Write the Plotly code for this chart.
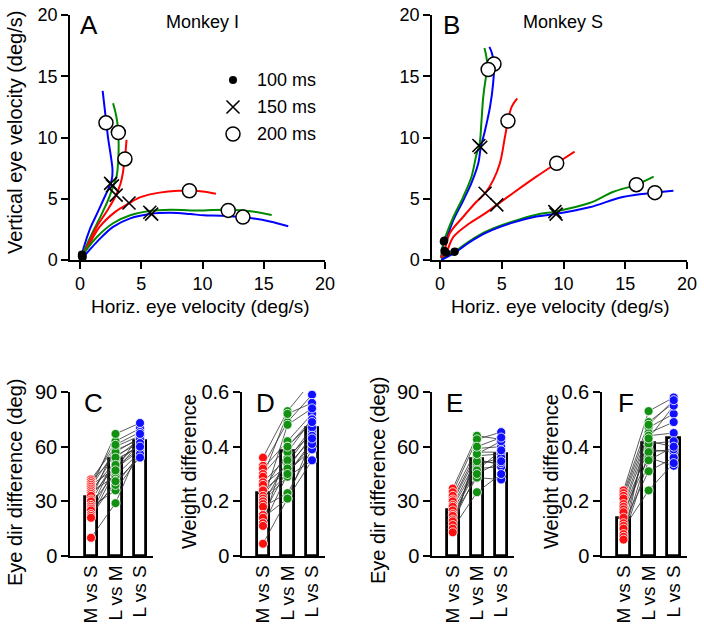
import plotly.graph_objects as go

W, H = 704, 633
FONT = "Liberation Sans, Arial, Helvetica, sans-serif"
RED, GREEN, BLUE = "#ff0000", "#008a00", "#0000ff"
DOT_RED, DOT_GREEN, DOT_BLUE = "#ff1010", "#119011", "#1010ff"

# ---------------- Panel A (Monkey I) trajectories ----------------
A_blue_up_x = [0.1, 0.3, 0.8, 1.4, 1.9, 2.4, 2.6, 2.65, 2.5, 2.3, 2.15, 2.0, 1.85]
A_blue_up_y = [0.2, 1.0, 2.5, 3.8, 4.9, 6.0, 6.6, 7.4, 8.6, 9.9, 11.2, 12.5, 13.8]
A_green_up_x = [0.1, 0.4, 1.0, 1.7, 2.3, 2.7, 3.0, 3.1, 3.15, 3.15, 3.1, 2.95, 2.7]
A_green_up_y = [0.2, 0.9, 2.2, 3.6, 4.9, 6.0, 6.9, 7.8, 8.8, 9.8, 10.8, 11.8, 12.8]
A_red_up_x = [0.1, 0.5, 1.3, 2.2, 2.9, 3.3, 3.5, 3.6, 3.7, 3.75, 3.8]
A_red_up_y = [0.2, 0.9, 2.6, 4.0, 5.2, 6.2, 7.1, 7.9, 8.6, 9.2, 9.8]
A_red_lo_x = [0.1, 0.6, 1.6, 2.9, 3.95, 5.0, 6.5, 8.0, 9.0, 10.0, 11.1]
A_red_lo_y = [0.2, 1.0, 2.7, 3.95, 4.6, 5.15, 5.5, 5.65, 5.65, 5.6, 5.4]
A_green_lo_x = [0.1, 0.5, 1.4, 2.7, 4.1, 5.7, 7.4, 9.0, 10.1, 12.1, 14.1, 15.65]
A_green_lo_y = [0.15, 0.8, 1.9, 3.0, 3.65, 4.0, 4.1, 4.05, 4.05, 4.1, 3.95, 3.67]
A_blue_lo_x = [0.1, 0.5, 1.4, 2.7, 4.1, 5.7, 7.4, 9.0, 10.1, 11.5, 13.3, 15.5, 17.0]
A_blue_lo_y = [0.1, 0.5, 1.5, 2.7, 3.4, 3.76, 3.85, 3.75, 3.65, 3.62, 3.5, 3.15, 2.75]
A_t100_x = [0.15, 0.2, 0.18, 0.15, 0.22, 0.2]
A_t100_y = [0.45, 0.4, 0.35, 0.3, 0.25, 0.2]
A_t150_x = [2.5, 2.65, 2.95, 4.0, 5.7, 5.85]
A_t150_y = [6.25, 6.05, 5.3, 4.65, 3.9, 3.75]
A_t200_x = [2.12, 3.13, 3.67, 8.93, 12.1, 13.3]
A_t200_y = [11.2, 10.4, 8.25, 5.65, 4.05, 3.5]

# ---------------- Panel B (Monkey S) trajectories ----------------
B_blue_up_x = [0.1, 0.35, 0.55, 1.1, 1.9, 2.55, 3.1, 3.3, 3.65, 4.05, 4.3, 4.37, 4.2, 4.0]
B_blue_up_y = [0.2, 1.6, 1.9, 3.3, 4.9, 6.3, 7.9, 9.2, 10.6, 12.5, 14.4, 16.0, 16.9, 17.4]
B_green_up_x = [0.1, 0.3, 0.55, 1.1, 1.9, 2.55, 2.95, 3.2, 3.35, 3.5, 3.7, 3.85, 3.75, 3.6]
B_green_up_y = [0.2, 1.5, 2.2, 3.55, 5.2, 6.8, 8.6, 9.4, 11.2, 13.3, 14.8, 15.6, 16.6, 17.3]
B_red_up_x = [0.1, 0.35, 0.8, 1.9, 2.95, 3.65, 4.3, 4.85, 5.25, 5.5, 5.8, 6.25]
B_red_up_y = [0.2, 0.75, 2.2, 3.55, 4.75, 5.45, 6.5, 7.9, 10.0, 11.35, 12.5, 13.2]
B_red_lo_x = [0.1, 0.5, 1.1, 2.4, 3.65, 4.6, 5.9, 7.8, 9.45, 10.9]
B_red_lo_y = [0.1, 0.6, 1.9, 3.0, 3.8, 4.5, 5.45, 6.8, 7.9, 8.85]
B_green_lo_x = [0.1, 1.2, 2.4, 3.8, 5.9, 7.8, 9.3, 12.1, 14.0, 15.9, 17.3]
B_green_lo_y = [0.05, 0.7, 1.55, 2.35, 3.15, 3.7, 3.95, 4.65, 5.55, 6.15, 6.8]
B_blue_lo_x = [0.1, 1.2, 2.4, 3.8, 5.9, 7.8, 9.3, 12.1, 14.8, 17.4, 18.9]
B_blue_lo_y = [0.0, 0.6, 1.45, 2.25, 3.05, 3.55, 3.75, 4.3, 5.15, 5.5, 5.65]
B_t100_x = [0.35, 0.3, 0.35, 0.5, 1.2, 1.15]
B_t100_y = [1.6, 1.5, 0.75, 0.6, 0.7, 0.65]
B_t150_x = [3.3, 3.15, 3.65, 4.6, 9.3, 9.4]
B_t150_y = [9.2, 9.35, 5.45, 4.5, 3.95, 3.75]
B_t200_x = [4.37, 3.9, 5.5, 9.45, 15.9, 17.4]
B_t200_y = [16.0, 15.55, 11.35, 7.9, 6.15, 5.5]

# ---------------- Bar panels ----------------
CATS = ["M vs S", "L vs M", "L vs S"]
C_MS = [42, 41, 40, 39, 38, 37, 36, 35, 34, 33, 31, 30, 28, 27, 26, 25, 23, 22, 21, 10]
C_LM = [60, 55, 63, 48, 58, 67, 52, 44, 57, 49, 61, 53, 46, 36, 54, 39, 50, 41, 47, 29]
C_LS = [66, 62, 70, 58, 64, 73, 61, 57, 65, 59, 68, 60, 63, 55, 64, 56, 62, 54, 67, 60]
C_BAR = [32.5, 53, 63]
D_MS = [0.36, 0.33, 0.32, 0.30, 0.29, 0.27, 0.26, 0.24, 0.24, 0.22, 0.21, 0.20, 0.20, 0.19, 0.18, 0.15, 0.14, 0.12, 0.11, 0.045]
D_LM = [0.53, 0.49, 0.42, 0.40, 0.52, 0.36, 0.33, 0.38, 0.31, 0.34, 0.30, 0.29, 0.48, 0.35, 0.23, 0.32, 0.21, 0.40, 0.30, 0.21]
D_LS = [0.64, 0.59, 0.52, 0.50, 0.56, 0.45, 0.43, 0.50, 0.39, 0.46, 0.42, 0.35, 0.54, 0.47, 0.39, 0.44, 0.35, 0.49, 0.41, 0.43]
D_BAR = [0.229, 0.385, 0.47]
E_MS = [37, 35, 33, 31, 30, 28, 27, 25, 23, 22, 20, 19, 17, 15, 13]
E_LM = [66, 64, 59, 57, 55, 53, 50, 48, 47, 43, 52, 45, 56, 35, 60]
E_LS = [64, 68, 60, 57, 56, 50, 54, 49, 58, 42, 51, 52, 63, 45, 65]
E_BAR = [25.2, 53, 56]
F_MS = [0.24, 0.23, 0.22, 0.21, 0.19, 0.18, 0.17, 0.16, 0.14, 0.12, 0.11, 0.10, 0.08, 0.07, 0.06]
F_LM = [0.53, 0.49, 0.47, 0.45, 0.44, 0.42, 0.39, 0.36, 0.41, 0.31, 0.43, 0.24, 0.38, 0.35, 0.48]
F_LS = [0.58, 0.56, 0.52, 0.49, 0.45, 0.40, 0.38, 0.33, 0.42, 0.36, 0.55, 0.34, 0.39, 0.40, 0.57]
F_BAR = [0.14, 0.415, 0.43]


def fx(p):
    return p / W


def fy(p):
    return 1 - p / H


fig = go.Figure()


def add_traj(xa, ya, curves, t100, t150, t200):
    for cx, cy, col in curves:
        fig.add_trace(go.Scatter(x=cx, y=cy, mode="lines", xaxis=xa, yaxis=ya,
                                 line=dict(color=col, width=2, shape="spline", smoothing=1.0),
                                 showlegend=False, hoverinfo="skip"))
    fig.add_trace(go.Scatter(x=t100[0], y=t100[1], mode="markers", xaxis=xa, yaxis=ya,
                             marker=dict(color="black", size=8), showlegend=False, cliponaxis=False))
    fig.add_trace(go.Scatter(x=t150[0], y=t150[1], mode="markers", xaxis=xa, yaxis=ya,
                             marker=dict(symbol="x-thin", size=13, line=dict(color="black", width=1.6)),
                             showlegend=False, cliponaxis=False))
    fig.add_trace(go.Scatter(x=t200[0], y=t200[1], mode="markers", xaxis=xa, yaxis=ya,
                             marker=dict(symbol="circle", size=14, color="white",
                                         line=dict(color="black", width=1.5)),
                             showlegend=False, cliponaxis=False))


add_traj("x", "y",
         [(A_blue_up_x, A_blue_up_y, BLUE), (A_green_up_x, A_green_up_y, GREEN),
          (A_red_up_x, A_red_up_y, RED), (A_red_lo_x, A_red_lo_y, RED),
          (A_green_lo_x, A_green_lo_y, GREEN), (A_blue_lo_x, A_blue_lo_y, BLUE)],
         (A_t100_x, A_t100_y), (A_t150_x, A_t150_y), (A_t200_x, A_t200_y))
add_traj("x2", "y2",
         [(B_blue_up_x, B_blue_up_y, BLUE), (B_green_up_x, B_green_up_y, GREEN),
          (B_red_up_x, B_red_up_y, RED), (B_red_lo_x, B_red_lo_y, RED),
          (B_green_lo_x, B_green_lo_y, GREEN), (B_blue_lo_x, B_blue_lo_y, BLUE)],
         (B_t100_x, B_t100_y), (B_t150_x, B_t150_y), (B_t200_x, B_t200_y))

# legend markers in panel A (pixel -> data of panel A)
A_X0, A_SX, A_Y0, A_SY = 80, 12.25, 260, 12.25
leg_px_x = 233
leg_rows = [(80, "100 ms"), (107, "150 ms"), (134, "200 ms")]
lx = (leg_px_x - A_X0) / A_SX
fig.add_trace(go.Scatter(x=[lx], y=[(A_Y0 - leg_rows[0][0]) / A_SY], mode="markers", xaxis="x", yaxis="y",
                         marker=dict(color="black", size=8), showlegend=False))
fig.add_trace(go.Scatter(x=[lx], y=[(A_Y0 - leg_rows[1][0]) / A_SY], mode="markers", xaxis="x", yaxis="y",
                         marker=dict(symbol="x-thin", size=13, line=dict(color="black", width=1.6)),
                         showlegend=False))
fig.add_trace(go.Scatter(x=[lx], y=[(A_Y0 - leg_rows[2][0]) / A_SY], mode="markers", xaxis="x", yaxis="y",
                         marker=dict(symbol="circle", size=14, color="white", line=dict(color="black", width=1.5)),
                         showlegend=False))


def add_bars(xa, ya, ms, lm, ls, bars):
    fig.add_trace(go.Bar(x=[0, 1, 2], y=bars, xaxis=xa, yaxis=ya, width=0.5,
                         marker=dict(color="white", line=dict(color="black", width=2.8)),
                         showlegend=False, hoverinfo="skip"))
    lx_, ly_ = [], []
    for a, b, c in zip(ms, lm, ls):
        lx_ += [0, 1, 2, None]
        ly_ += [a, b, c, None]
    fig.add_trace(go.Scatter(x=lx_, y=ly_, mode="lines", xaxis=xa, yaxis=ya,
                             line=dict(color="#333333", width=0.8), showlegend=False,
                             hoverinfo="skip", cliponaxis=False))
    for i, (vals, col) in enumerate([(ms, DOT_RED), (lm, DOT_GREEN), (ls, DOT_BLUE)]):
        fig.add_trace(go.Scatter(x=[i] * len(vals), y=vals, mode="markers", xaxis=xa, yaxis=ya,
                                 marker=dict(color=col, size=9, line=dict(color="white", width=0.8)),
                                 showlegend=False, cliponaxis=False))


add_bars("x3", "y3", C_MS, C_LM, C_LS, C_BAR)
add_bars("x4", "y4", D_MS, D_LM, D_LS, D_BAR)
add_bars("x5", "y5", E_MS, E_LM, E_LS, E_BAR)
add_bars("x6", "y6", F_MS, F_LM, F_LS, F_BAR)


def axstyle(**kw):
    d = dict(showline=True, linecolor="black", linewidth=1.5, ticks="outside", ticklen=7,
             tickwidth=1.5, tickcolor="black", showgrid=False, zeroline=False,
             tickfont=dict(size=18, color="black", family=FONT), fixedrange=True,
             automargin=False)
    d.update(kw)
    return d


layout = dict(
    width=W, height=H, margin=dict(l=0, r=0, t=0, b=0, autoexpand=False),
    paper_bgcolor="white", plot_bgcolor="white", showlegend=False,
    font=dict(family=FONT, color="black"), bargap=0,
    xaxis=axstyle(domain=[fx(70), fx(325)], range=[-0.816, 20], anchor="y",
                  tickvals=[0, 5, 10, 15, 20]),
    yaxis=axstyle(domain=[fy(260), fy(15)], range=[0, 20], anchor="x",
                  tickvals=[0, 5, 10, 15, 20]),
    xaxis2=axstyle(domain=[fx(432), fx(687)], range=[-0.648, 20], anchor="y2",
                   tickvals=[0, 5, 10, 15, 20]),
    yaxis2=axstyle(domain=[fy(260), fy(15)], range=[0, 20], anchor="x2",
                   tickvals=[0, 5, 10, 15, 20]),
)

bar_axes = [("3", 70, 153, [0, 30, 60, 90], ["0", "30", "60", "90"], [0, 90]),
            ("4", 242, 325, [0, 0.2, 0.4, 0.6], ["0", "0.2", "0.4", "0.6"], [0, 0.6]),
            ("5", 432, 514, [0, 30, 60, 90], ["0", "30", "60", "90"], [0, 90]),
            ("6", 602, 687, [0, 0.2, 0.4, 0.6], ["0", "0.2", "0.4", "0.6"], [0, 0.6])]
for n, x0, x1, tv, tt, yr in bar_axes:
    layout["xaxis" + n] = axstyle(domain=[fx(x0), fx(x1)], range=[-0.857, 2.53], anchor="y" + n,
                                  tickvals=[0, 1, 2], ticktext=CATS, ticks="", tickangle=-90,
                                  tickfont=dict(size=19, color="black", family=FONT))
    layout["yaxis" + n] = axstyle(domain=[fy(556), fy(392)], range=yr, anchor="x" + n,
                                  tickvals=tv, ticktext=tt,
                                  tickfont=dict(size=20, color="black", family=FONT))

fig.update_layout(**layout)


def ann(px, py, text, size, angle=0, xanchor="center"):
    fig.add_annotation(x=fx(px), y=fy(py), xref="paper", yref="paper", text=text, showarrow=False,
                       font=dict(size=size, color="black", family=FONT), textangle=angle,
                       xanchor=xanchor, yanchor="middle")


# panel letters and titles
for (px, py, t) in [(89, 25, "A"), (451, 25, "B"), (93, 403, "C"), (265, 403, "D"),
                    (454, 403, "E"), (626, 403, "F")]:
    ann(px, py, t, 26)
ann(202, 22, "Monkey I", 18)
ann(563, 22, "Monkey S", 18)
for py, t in leg_rows:
    ann(255, py, t, 18, xanchor="left")

# axis titles
ann(15, 133, "Vertical eye velocity (deg/s)", 20, angle=-90)
ann(200, 306, "Horiz. eye velocity (deg/s)", 19)
ann(560, 306, "Horiz. eye velocity (deg/s)", 19)
ann(15, 482, "Eye dir difference (deg)", 20, angle=-90)
ann(189, 472, "Weight difference", 20, angle=-90)
ann(378, 480, "Eye dir difference (deg)", 20, angle=-90)
ann(551, 472, "Weight difference", 20, angle=-90)

fig.write_html("out.html", config={"displayModeBar": False},
               post_script="document.body.style.margin='0';document.body.style.overflow='hidden';")
